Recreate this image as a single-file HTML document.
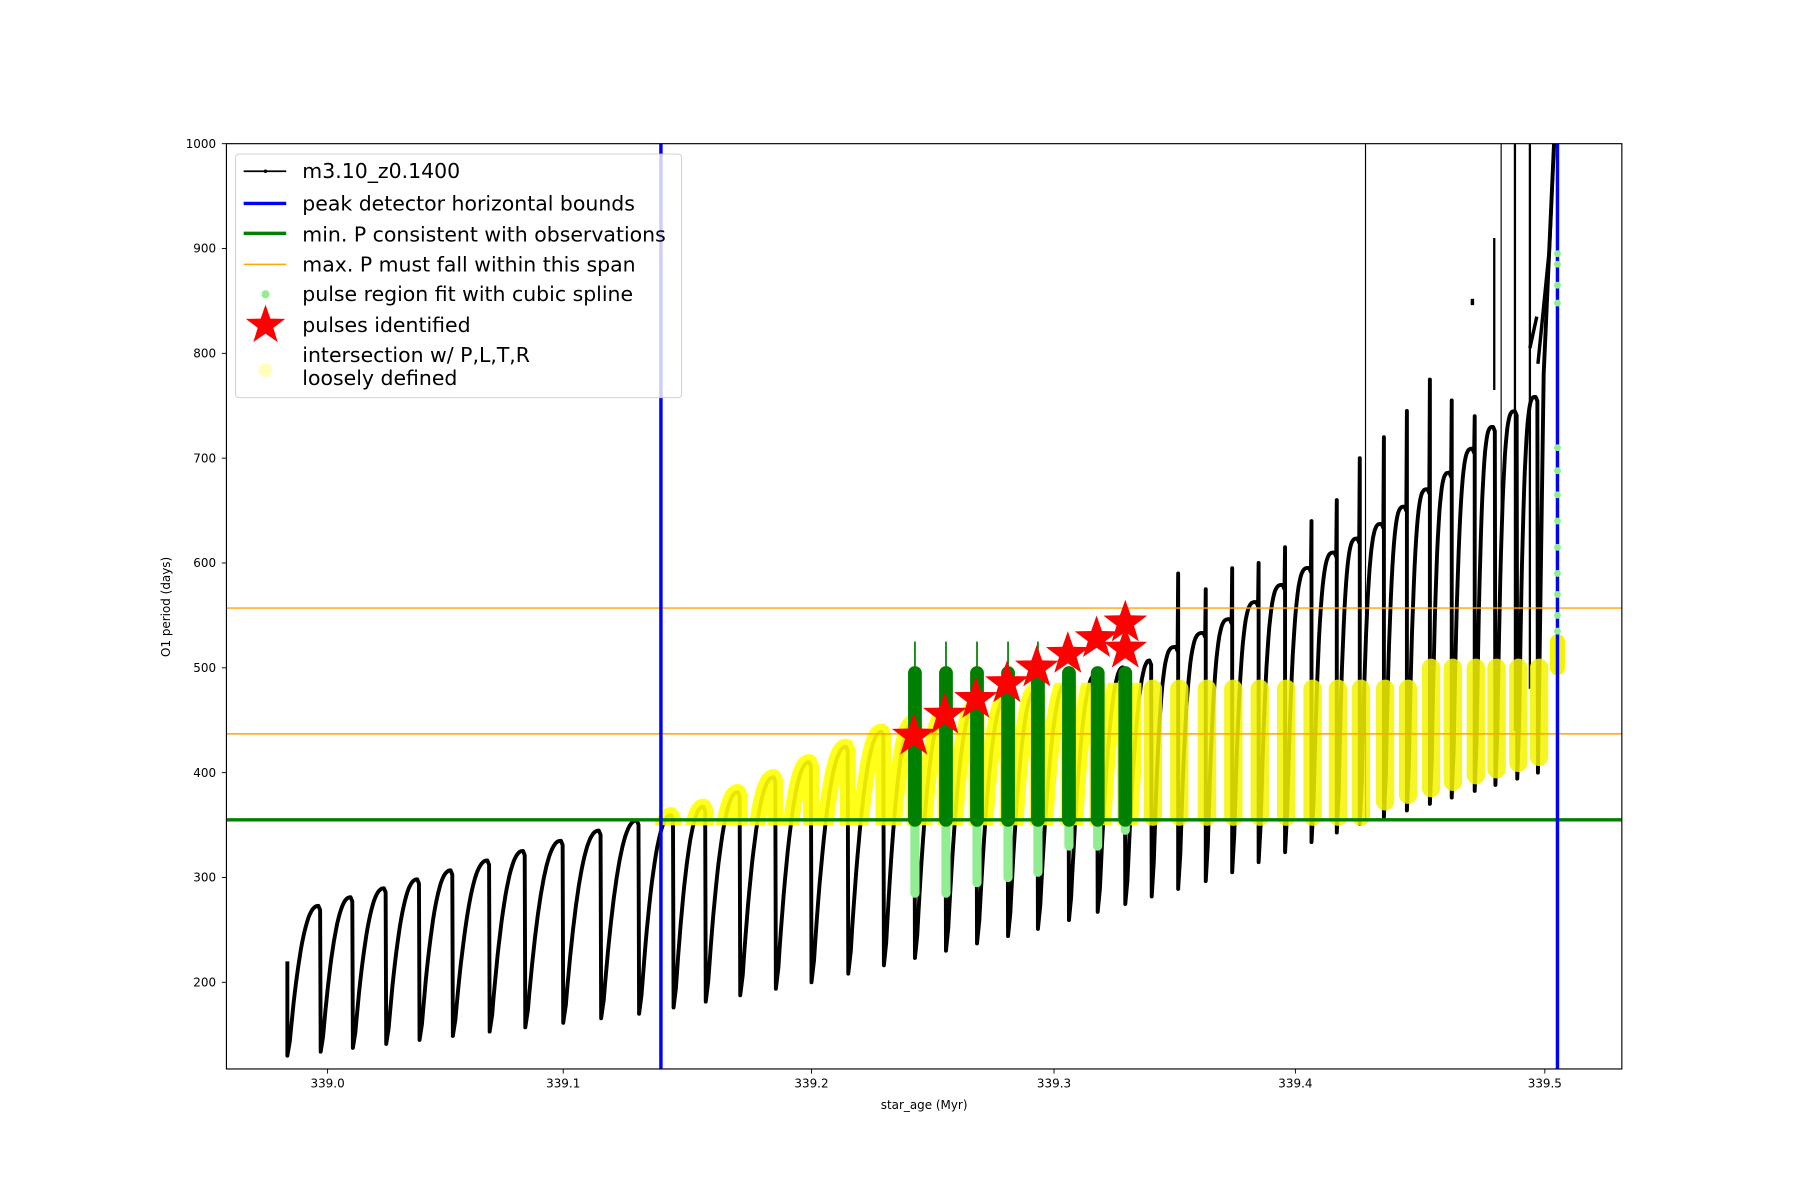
<!DOCTYPE html>
<html><head><meta charset="utf-8"><style>html,body{margin:0;padding:0;background:#fff}svg{display:block}</style></head>
<body>
<svg id="s" xmlns="http://www.w3.org/2000/svg" width="1800" height="1200" viewBox="0 0 1566 1044" preserveAspectRatio="none" font-family="DejaVu Sans, Liberation Sans, sans-serif">
<defs><clipPath id="ax"><rect x="197" y="125" width="1214" height="805"/></clipPath>
<clipPath id="yc"><rect x="568" y="594" width="425" height="124"/></clipPath></defs>
<g id="plot" clip-path="url(#ax)"></g>
<rect x="197" y="125" width="1214" height="805" fill="none" stroke="#000" stroke-width="1"/>
<g id="ticks" font-size="10.4"></g>
<text x="804" y="965" font-size="10.4" text-anchor="middle">star_age (Myr)</text>
<text transform="translate(148,528) rotate(-90)" font-size="10.4" text-anchor="middle">O1 period (days)</text>
<g>
<rect x="205" y="134" width="388" height="212" rx="3" fill="#fff" fill-opacity="0.8" stroke="#ccc" stroke-width="0.8"/>
<line x1="212" y1="149" x2="249" y2="149" stroke="#000" stroke-width="1.5"/><circle cx="231" cy="149" r="1.5"/>
<line x1="212" y1="177" x2="249" y2="177" stroke="#00f" stroke-width="3"/>
<line x1="212" y1="203" x2="249" y2="203" stroke="#008000" stroke-width="3"/>
<line x1="212" y1="230" x2="249" y2="230" stroke="orange" stroke-width="1.3"/>
<circle cx="231" cy="256" r="3.5" fill="#90ee90"/>
<polygon id="lstar" fill="red"/>
<circle cx="231" cy="322" r="6" fill="#ffffaa" opacity="0.8"/>
<g font-size="17.8" fill="#000">
<text x="263" y="155">m3.10_z0.1400</text>
<text x="263" y="183">peak detector horizontal bounds</text>
<text x="263" y="210">min. P consistent with observations</text>
<text x="263" y="236">max. P must fall within this span</text>
<text x="263" y="262">pulse region fit with cubic spline</text>
<text x="263" y="289">pulses identified</text>
<text x="263" y="315">intersection w/ P,L,T,R</text>
<text x="263" y="335">loosely defined</text>
</g></g>
</svg>
<script>
const NS="http://www.w3.org/2000/svg";
const P=document.getElementById('plot');
function Y(v){return 125+(1000-v)*0.912;}
function el(t,a,p){const e=document.createElementNS(NS,t);for(const k in a)e.setAttribute(k,a[k]);(p||P).appendChild(e);return e;}
function interp(pts,x){if(x<=pts[0][0])return pts[0][1];for(let i=1;i<pts.length;i++){if(x<=pts[i][0]){const a=pts[i-1],b=pts[i];return a[1]+(b[1]-a[1])*(x-a[0])/(b[0]-a[0]);}}return pts[pts.length-1][1];}
function star(cx,cy,R){let s=[];for(let i=0;i<10;i++){const r=i%2?R*0.4:R;const a=-Math.PI/2+i*Math.PI/5;s.push((cx+r*Math.cos(a)).toFixed(1)+','+(cy+r*Math.sin(a)).toFixed(1));}return s.join(' ');}
document.getElementById('lstar').setAttribute('points',star(231,283,18));
const T=document.getElementById('ticks');
for(let v=200;v<=1000;v+=100){const y=Y(v);el('line',{x1:193,y1:y,x2:197,y2:y,stroke:'#000','stroke-width':0.8},T);el('text',{x:188,y:y+3.6,'text-anchor':'end'},T).textContent=v;}
const xt=[[285,'339.0'],[490,'339.1'],[706,'339.2'],[917,'339.3'],[1127,'339.4'],[1344,'339.5']];
for(const [x,l] of xt){el('line',{x1:x,y1:930,x2:x,y2:934,stroke:'#000','stroke-width':0.8},T);el('text',{x:x,y:946,'text-anchor':'middle'},T).textContent=l;}
const S=[250,279,307,336,365,394,426,457,490,523,556,586,614,644,675,706,738,769,796,823,850,877,903,930,955,979,1002,1025,1049,1072,1095,1118,1141,1163,1183,1204,1224,1244,1263,1283,1301,1320,1338];
const peakP=[[250,265],[556,355],[600,362],[769,440],[1000,507],[1068,545],[1137,594],[1203,638],[1262,687],[1300,731],[1338,760]];
const minP=[[250,130],[556,170],[706,200],[900,250],[1060,300],[1180,350],[1338,400]];
const hiP={1025:590,1049:575,1072:595,1095:600,1118:615,1141:640,1163:660,1183:700,1204:720,1224:745,1244:775,1263:755,1283:740};
let d='M250,'+Y(220)+' L250,'+Y(140);
for(let i=0;i<S.length-1;i++){
 const a=S[i],b=S[i+1],m=interp(minP,a),p=interp(peakP,b-2);
 if(hiP[a]){d+=' L'+a+','+Y(hiP[a])+' L'+a+','+Y(m);}
 else d+=' L'+a+','+Y(m);
 const w=b-a;const ex=a<980?2.3:3.5;
 for(let k=1;k<=24;k++){const u=k/24;const x=a+1+u*(w-3);const v=m+(p-m)*(1-Math.pow(1-u,ex));d+=' L'+x.toFixed(1)+','+Y(v).toFixed(1);}
 d+=' L'+(b-0.5)+','+Y(p-4).toFixed(1);
}
d+=' L1338,'+Y(400)+' L1343,'+Y(780)+' L1352,'+Y(1000);
el('path',{d:d,fill:'none',stroke:'#000','stroke-width':3.4,'stroke-linejoin':'round'});
el('line',{x1:1188,y1:125,x2:1188,y2:Y(355),stroke:'#000','stroke-width':1});
el('line',{x1:1306,y1:125,x2:1306,y2:Y(600),stroke:'#000','stroke-width':1});
el('line',{x1:1318,y1:125,x2:1318,y2:Y(440),stroke:'#000','stroke-width':2});
el('line',{x1:1331,y1:125,x2:1331,y2:Y(480),stroke:'#000','stroke-width':2});
el('line',{x1:1300,y1:Y(910),x2:1300,y2:Y(765),stroke:'#000','stroke-width':2});
el('line',{x1:1281,y1:Y(852),x2:1281,y2:Y(846),stroke:'#000','stroke-width':3});
el('path',{d:'M1331,'+Y(805)+' L1337,'+Y(835)+' M1338,'+Y(790)+' L1348,'+Y(900)+' L1352,'+Y(1000),stroke:'#000','stroke-width':3,fill:'none'});
const yg=el('g',{'clip-path':'url(#yc)'});
el('path',{d:d,fill:'none',stroke:'#ffff00','stroke-width':14,'stroke-linejoin':'round','stroke-linecap':'round','stroke-opacity':0.9},yg);
for(let i=26;i<S.length;i++){const x=S[i];const lo=x<1200?358:Math.max(360,interp(minP,x)+15);el('line',{x1:x+1,y1:Y(lo),x2:x+1,y2:Y(480+(x>1230?20:0)),stroke:'#f4f400','stroke-width':16,'stroke-linecap':'round','stroke-opacity':0.85});}
el('line',{x1:1355,y1:Y(500),x2:1355,y2:Y(525),stroke:'#f4f400','stroke-width':13,'stroke-linecap':'round'});
el('line',{x1:197,y1:Y(355),x2:1411,y2:Y(355),stroke:'#008000','stroke-width':3});
el('line',{x1:197,y1:Y(557),x2:1411,y2:Y(557),stroke:'orange','stroke-width':1.3});
el('line',{x1:197,y1:Y(437),x2:1411,y2:Y(437),stroke:'orange','stroke-width':1.3});
const G=[796,823,850,877,903,930,955,979];const lows=[285,285,295,300,305,330,330,345];
G.forEach((x,i)=>{
 el('line',{x1:x,y1:Y(lows[i]),x2:x,y2:Y(355),stroke:'#90ee90','stroke-width':8,'stroke-linecap':'round'});
 if(i<5)el('line',{x1:x,y1:Y(495),x2:x,y2:Y(525),stroke:'#008000','stroke-width':1.5});
 el('line',{x1:x,y1:Y(355),x2:x,y2:Y(495),stroke:'#008000','stroke-width':12,'stroke-linecap':'round'});
});
el('line',{x1:575,y1:125,x2:575,y2:930,stroke:'#00f','stroke-width':3});
el('line',{x1:1355,y1:125,x2:1355,y2:930,stroke:'#00f','stroke-width':3});
[895,885,865,848,710,688,665,640,615,590,570,550,535].forEach(v=>el('circle',{cx:1355,cy:Y(v),r:3,fill:'#90ee90'}));
[[795,435],[822,455],[849,470],[876,485],[902,500],[929,513],[954,528],[979,543],[979,518]].forEach(([x,v])=>el('polygon',{points:star(x,Y(v),20),fill:'red'}));
</script>
</body></html>
